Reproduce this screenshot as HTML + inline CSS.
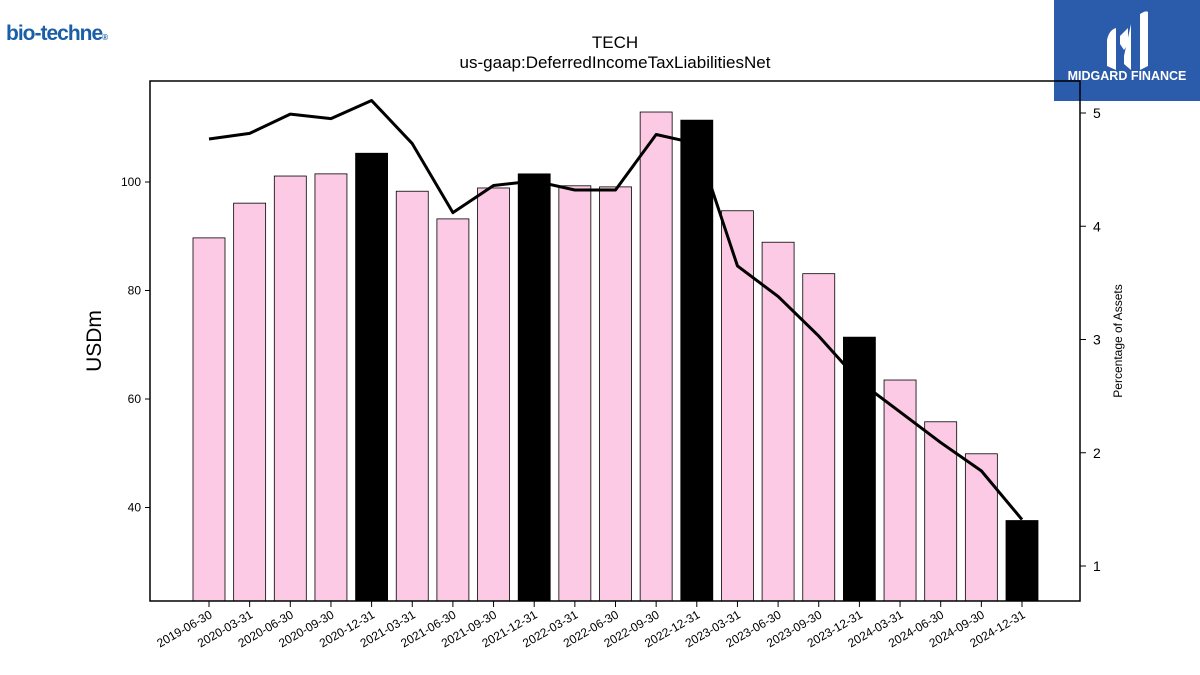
<!DOCTYPE html>
<html><head><meta charset="utf-8"><style>
body{margin:0;background:#fff;font-family:"Liberation Sans","DejaVu Sans",sans-serif}
#wrap{position:relative;width:1200px;height:675px;overflow:hidden}
</style></head><body>
<div id="wrap">
<div style="position:absolute;left:6px;top:22px;font-size:21px;font-weight:bold;color:#1a5ea8;letter-spacing:-1px">bio-techne<span style="font-size:8px">®</span></div>
<div style="position:absolute;left:1054px;top:0;width:146px;height:101px;background:#2b5bab">
<svg width="146" height="70"><path d="M53 40 Q55 30 62 28 L62 70 L53 66 Z M66 36 L74 28 L74 44 L70 50 L66 44 Z M77 24 L77 70 L70 64 L70 56 Z M86 14 Q92 10 94 12 L94 66 L86 70 Z" fill="#fff"/></svg>
<div style="position:absolute;left:0;width:146px;top:69px;text-align:center;color:#fff;font-weight:bold;font-size:12.5px">MIDGARD FINANCE</div>
</div>
<svg id="chart" width="1200" height="675" style="position:absolute;left:0;top:0"></svg>
</div>
<script>
const categories=["2019-06-30","2020-03-31","2020-06-30","2020-09-30","2020-12-31","2021-03-31","2021-06-30","2021-09-30","2021-12-31","2022-03-31","2022-06-30","2022-09-30","2022-12-31","2023-03-31","2023-06-30","2023-09-30","2023-12-31","2024-03-31","2024-06-30","2024-09-30","2024-12-31"];
const barValues=[89.7,96.1,101.1,101.5,105.3,98.3,93.2,98.9,101.5,99.3,99.1,112.9,111.4,94.7,88.9,83.1,71.4,63.5,55.8,49.9,37.6];
const pctValues=[4.77,4.82,4.99,4.95,5.11,4.73,4.12,4.36,4.40,4.32,4.32,4.81,4.73,3.65,3.38,3.03,2.63,2.36,2.09,1.84,1.41];
const leftTicks=[40,60,80,100];
const rightTicks=[1,2,3,4,5];
const yearEnd=[false,false,false,false,true,false,false,false,true,false,false,false,true,false,false,false,true,false,false,false,true];

const svg=document.getElementById('chart');
const NS='http://www.w3.org/2000/svg';
function mk(t,a,p){const e=document.createElementNS(NS,t);for(const k in a)e.setAttribute(k,a[k]);(p||svg).appendChild(e);return e;}
const L=150,R=1080,T=81,B=601;
const yL=v=>182+(100-v)*108.5/20;
const yR=v=>113+(5-v)*113.25;
const xC=i=>209+i*40.65;
const bw=32;

let t=mk('text',{x:615,y:48,'text-anchor':'middle','font-size':17});t.textContent='TECH';

t=mk('text',{x:615,y:68,'text-anchor':'middle','font-size':17});t.textContent='us-gaap:DeferredIncomeTaxLiabilitiesNet';


barValues.forEach((v,i)=>{
  const r=mk('rect',{x:xC(i)-bw/2,y:yL(v),width:bw,height:B-yL(v),fill:yearEnd[i]?'#000':'#fccae4',stroke:'#000','stroke-width':0.8});
  
  
});
const pts=pctValues.map((v,i)=>xC(i)+','+yR(v)).join(' ');
const pl=mk('polyline',{points:pts,fill:'none',stroke:'#000','stroke-width':3,'stroke-linejoin':'round'});



const fr=mk('rect',{x:L,y:T,width:R-L,height:B-T,fill:'none',stroke:'#000','stroke-width':1.5});


leftTicks.forEach(v=>{
  mk('line',{x1:L-5,x2:L,y1:yL(v),y2:yL(v),stroke:'#000'});
  const tx=mk('text',{x:L-9,y:yL(v)+4,'text-anchor':'end','font-size':12});tx.textContent=v;
  
});
rightTicks.forEach(v=>{
  mk('line',{x1:R,x2:R+6,y1:yR(v),y2:yR(v),stroke:'#000'});
  const tx=mk('text',{x:R+13,y:yR(v)+5,'font-size':14});tx.textContent=v;
  
});
categories.forEach((c,i)=>{
  mk('line',{x1:xC(i),x2:xC(i),y1:B,y2:B+6,stroke:'#000'});
  const tx=mk('text',{x:xC(i)+4,y:B+16,'text-anchor':'end','font-size':12,transform:`rotate(-30 ${xC(i)+4} ${B+16})`});tx.textContent=c;
  
});
t=mk('text',{x:101,y:341,'text-anchor':'middle','font-size':21,transform:'rotate(-90 101 341)'});t.textContent='USDm';

t=mk('text',{x:1122,y:341,'text-anchor':'middle','font-size':12,transform:'rotate(-90 1122 341)'});t.textContent='Percentage of Assets';

</script>
</body></html>
